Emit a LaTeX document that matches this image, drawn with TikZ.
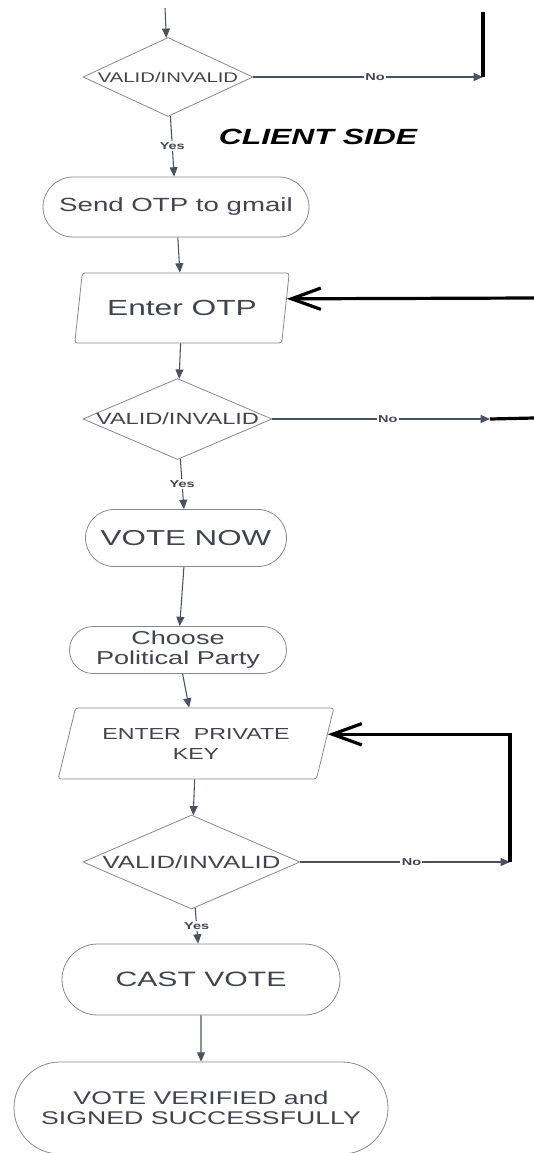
\documentclass[tikz,border=0pt]{standalone}
\usepackage{fontspec}
\setmainfont{Liberation Sans}[FakeStretch=1.45]
\usepackage{tikz}
\usetikzlibrary{shapes.geometric,shapes.misc,arrows.meta}
\definecolor{linkc}{HTML}{4A5160}
\definecolor{boxc}{HTML}{85888E}
\definecolor{txtc}{HTML}{3F4450}
\newcommand{\fs}[2]{\fontsize{#1}{#2}\selectfont}
\tikzset{%
  link/.style = {-{Triangle[length=7pt,width=6pt]},linkc,line width=0.8pt},
  heavy/.style = {line width=2.4pt,black},
  barb/.style = {heavy,-{Straight Barb[length=22pt,width=16pt]}},
  term/.style = {rounded rectangle,draw=boxc,line width=0.6pt,text=txtc,
        align=center,inner sep=0pt},
  io/.style = {trapezium,trapezium stretches=true,draw=boxc,line width=0.6pt,
        rounded corners=2pt,text=txtc,align=center,inner sep=0pt},
  dec/.style = {diamond,draw=boxc,line width=0.6pt,inner sep=0pt},
  vi/.style = {text=txtc,inner sep=0pt},
  yn/.style = {fill=white,font=\bfseries\fs{7.5}{8},text=txtc,inner sep=1pt}
}
\begin{document}
\begin{tikzpicture}[x=0.75pt,y=-0.75pt]
    \useasboundingbox (0,0) rectangle (534,1153);
    \coordinate (top) at (165,8);
    \node[dec,minimum width=127.5pt,minimum height=59.25pt,
        label={[vi,font=\fs{10.5}{12}]center:VALID/INVALID}] (d1) at (168,77) {};
    \coordinate (n1) at (483,77);
    \coordinate (n1top) at (483,12);
    \node[font=\bfseries\itshape\fs{16.5}{18}] (side) at (318,137) {CLIENT SIDE};
    \node[term,minimum width=199.5pt,minimum height=45pt,font=\fs{14.3}{16}] (send) at (176,207) {Send OTP to gmail};
    \node[io,minimum width=161pt,minimum height=52.5pt,trapezium left angle=70,
        trapezium right angle=110,font=\fs{16.4}{18}] (otp) at (182,308) {Enter OTP};
    \coordinate (e1) at (534,298);
    \node[dec,minimum width=141.75pt,minimum height=60.75pt,
        label={[vi,font=\fs{12.2}{14}]center:VALID/INVALID}] (d2) at (177.5,419) {};
    \coordinate (n2) at (490,419);
    \coordinate (e2) at (534,418);
    \node[term,minimum width=150.75pt,minimum height=42.75pt,font=\fs{16.2}{18}] (now) at (186,538) {VOTE NOW};
    \node[term,minimum width=162.75pt,minimum height=35.25pt,font=\fs{14}{15}] (party) at (178,650) {Choose\\Political Party};
    \node[io,minimum width=207pt,minimum height=53.25pt,trapezium left angle=66.4,
        trapezium right angle=113.6,font=\fs{12}{15}] (key) at (196,743.5) {ENTER\ \ PRIVATE\\KEY};
    \node[dec,minimum width=162.75pt,minimum height=70.5pt,
        label={[vi,font=\fs{13.3}{15}]center:VALID/INVALID}] (d3) at (191.5,862) {};
    \coordinate (n3) at (510,862);
    \node[term,minimum width=208.5pt,minimum height=53.25pt,font=\fs{15.6}{17}] (cast) at (201,979.5) {CAST VOTE};
    \node[term,minimum width=280.5pt,minimum height=69pt,font=\fs{13.8}{14.8}] (done) at (201,1108) {VOTE VERIFIED and\\SIGNED SUCCESSFULLY};

    \path[link] (top) edge (d1)
                (d1) edge node[yn,pos=0.53] {No} (n1)
                (d1) edge node[yn] {Yes} (send)
                (send) edge (otp)
                (otp) edge (d2)
                (d2) edge node[yn,pos=0.53] {No} (n2)
                (d2) edge node[yn] {Yes} (now)
                (now) edge (party)
                (party) edge (key)
                (key) edge (d3)
                (d3) edge node[yn,pos=0.53] {No} (n3)
                (d3) edge node[yn] {Yes} (cast)
                (cast) edge (done);

    \draw[heavy] (n1top) -- (n1);
    \draw[heavy] (n2) -- (e2);
    \draw[barb] (e1) -- (otp.5);
    \draw[barb] (n3) -- (n3 |- key.4) -- (key.4);
\end{tikzpicture}
\end{document}
